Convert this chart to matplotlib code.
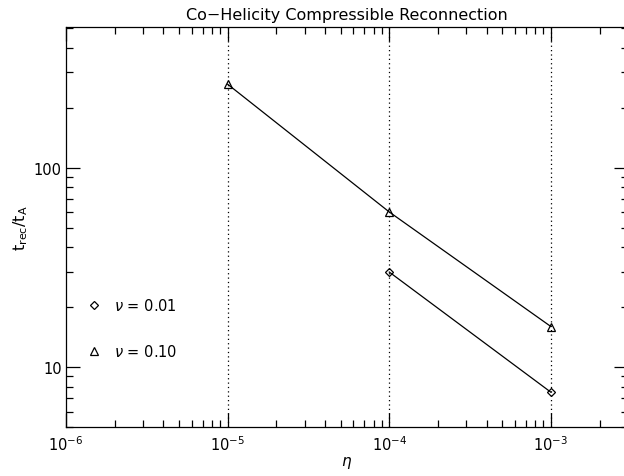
import numpy as np
import matplotlib
matplotlib.use("Agg")
import matplotlib.pyplot as plt
from matplotlib.ticker import LogLocator, FuncFormatter, NullFormatter

plt.rcParams['font.family'] = ['DejaVu Sans']
plt.rcParams['mathtext.fontset'] = 'dejavusans'

# reconnection time vs resistivity for two viscosities
eta_nu10 = [1e-5, 1e-4, 1e-3]
trec_nu10 = [262, 60, 16]
eta_nu01 = [1e-4, 1e-3]
trec_nu01 = [30, 7.5]
grid_eta = [1e-5, 1e-4, 1e-3]

fig = plt.figure(figsize=(6.24, 4.77), dpi=100)
ax = fig.add_axes([0.1058, 0.102, 0.9006, 0.8386])
ax.set_xscale('log')
ax.set_yscale('log')
ax.set_xlim(1e-6, 3e-3)
ax.set_ylim(5, 505)

for x in grid_eta:
    ax.axvline(x, color='k', linestyle=(0, (1, 2.5)), linewidth=0.9)

ax.plot(eta_nu10, trec_nu10, color='k', linewidth=0.9, marker='^',
        markersize=6, markerfacecolor='none', markeredgecolor='k',
        markeredgewidth=0.9)
ax.plot(eta_nu01, trec_nu01, color='k', linewidth=0.9, marker='D',
        markersize=4.5, markerfacecolor='none', markeredgecolor='k',
        markeredgewidth=0.9)

# legend drawn by hand
ax.plot([0.0498], [0.3065], transform=ax.transAxes, marker='D',
        markersize=4.5, markerfacecolor='none', markeredgecolor='k',
        markeredgewidth=0.9, linestyle='none')
ax.plot([0.0498], [0.1915], transform=ax.transAxes, marker='^',
        markersize=6, markerfacecolor='none', markeredgecolor='k',
        markeredgewidth=0.9, linestyle='none')
ax.text(0.085, 0.3065, r'$\nu$ = 0.01', transform=ax.transAxes,
        fontsize=10.5, va='center')
ax.text(0.085, 0.1915, r'$\nu$ = 0.10', transform=ax.transAxes,
        fontsize=10.5, va='center')

ax.xaxis.set_major_locator(LogLocator(base=10, numticks=10))
ax.xaxis.set_minor_locator(LogLocator(base=10, subs=np.arange(2, 10), numticks=10))
ax.yaxis.set_major_locator(LogLocator(base=10, numticks=10))
ax.yaxis.set_minor_locator(LogLocator(base=10, subs=np.arange(2, 10), numticks=10))
ax.xaxis.set_minor_formatter(NullFormatter())
ax.yaxis.set_minor_formatter(NullFormatter())
ax.yaxis.set_major_formatter(FuncFormatter(lambda v, p: '%d' % v))
ax.xaxis.set_major_formatter(
    FuncFormatter(lambda v, p: r'$10^{%d}$' % int(round(np.log10(v)))))

ax.tick_params(which='both', direction='in', top=True, right=True,
               width=0.9)
ax.tick_params(axis='x', labelsize=10.5, pad=5)
ax.tick_params(axis='y', labelsize=10.5, pad=3)
ax.tick_params(which='major', length=10)
ax.tick_params(which='minor', length=5)
for s in ax.spines.values():
    s.set_linewidth(0.9)

ax.set_title('Co\u2212Helicity Compressible Reconnection', fontsize=11.5, pad=6)
ax.set_xlabel(r'$\eta$', fontsize=11, labelpad=1)
ax.set_ylabel(r'$\mathrm{t_{rec}/t_A}$', fontsize=11.5, labelpad=3)

fig.savefig('out.png', dpi=100)
